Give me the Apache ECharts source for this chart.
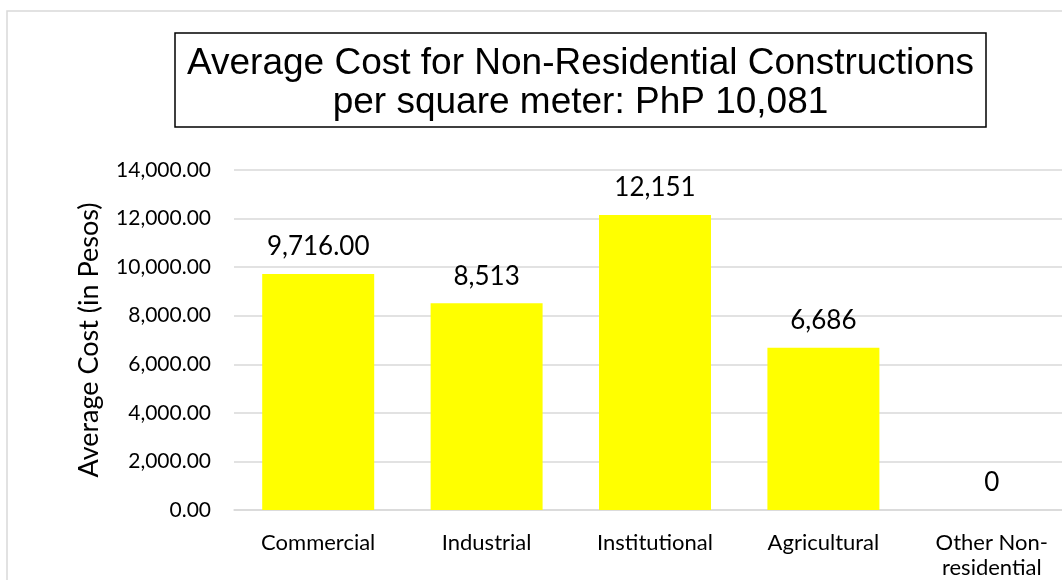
<!DOCTYPE html>
<html>
<head>
<meta charset="utf-8">
<script src="https://cdn.jsdelivr.net/npm/echarts@6/dist/echarts.min.js"></script>
<style>html,body{margin:0;padding:0;background:#fff;overflow:hidden;width:1062px;height:580px}#c{width:1100px;height:580px}</style>
</head>
<body>
<div id="c"></div>
<script>
var titleLines = ['Average Cost for Non-Residential Constructions', 'per square meter: PhP 10,081'];
var categories = ['Commercial', 'Industrial', 'Institutional', 'Agricultural', 'Other Non-\nresidential'];
var values = [9716, 8513, 12151, 6686, 0];
var labelDecimals = [2, 0, 0, 0, 0];
var yAxisName = 'Average Cost (in Pesos)';
var yMin = 0, yMax = 14000, yStep = 2000;

function fmt(v, d) {
  return Number(v).toLocaleString('en-US', {minimumFractionDigits: d, maximumFractionDigits: d});
}

var chart = echarts.init(document.getElementById('c'), null, {renderer: 'canvas'});
chart.setOption({
  animation: false,
  backgroundColor: '#fff',
  graphic: [
    {type: 'rect', shape: {x: 7, y: 11, width: 1150, height: 620}, style: {fill: 'none', stroke: '#d9d9d9', lineWidth: 1.5}, silent: true},
    {type: 'rect', shape: {x: 175, y: 33, width: 811, height: 94}, style: {fill: '#fff', stroke: '#000', lineWidth: 1.5}, z: 10},
    {type: 'text', x: 580.5, y: 83, z: 11, style: {text: titleLines.join('\n'), font: '37px "Liberation Sans", Arial, sans-serif', fill: '#000', align: 'center', verticalAlign: 'middle', lineHeight: 39}}
  ],
  grid: {left: 234, top: 170, height: 340, width: 842, containLabel: false},
  xAxis: {
    type: 'category',
    data: categories,
    axisLine: {show: true, lineStyle: {color: '#d9d9d9', width: 1.5}},
    axisTick: {show: false},
    axisLabel: {interval: 0, color: '#000', fontFamily: 'Lato', fontSize: 22, lineHeight: 25, margin: 20}
  },
  yAxis: {
    type: 'value',
    min: yMin, max: yMax, interval: yStep,
    name: yAxisName,
    nameLocation: 'middle',
    nameGap: 131,
    nameTextStyle: {color: '#000', fontFamily: 'Lato', fontSize: 27},
    axisLine: {show: false},
    axisTick: {show: false},
    splitLine: {lineStyle: {color: '#d9d9d9', width: 1.5}},
    axisLabel: {color: '#000', fontFamily: 'Lato', fontSize: 21, margin: 23, formatter: function (v) { return fmt(v, 2); }}
  },
  series: [{
    type: 'bar',
    data: values,
    barCategoryGap: '33.5%',
    itemStyle: {color: '#ffff00'},
    label: {
      show: true, position: 'top', distance: 14, color: '#000', fontFamily: 'Lato', fontSize: 26,
      formatter: function (p) { return fmt(p.value, labelDecimals[p.dataIndex]); }
    }
  }]
});
</script>
</body>
</html>
